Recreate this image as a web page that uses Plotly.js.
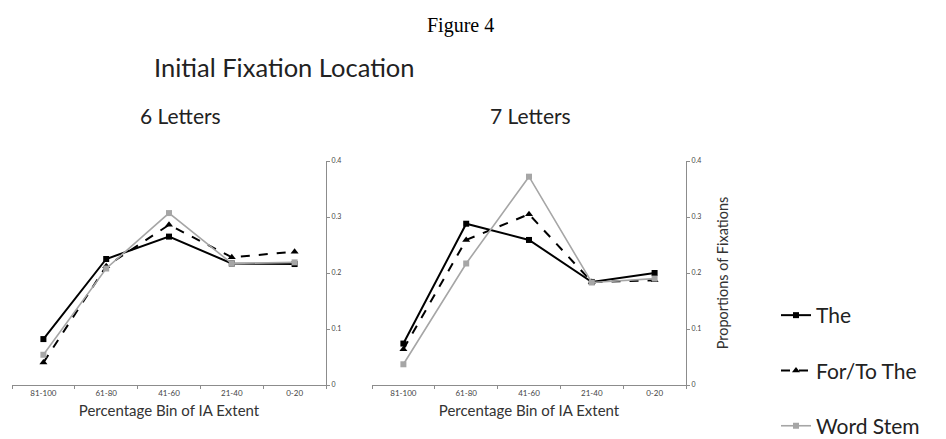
<!DOCTYPE html>
<html><head><meta charset="utf-8">
<script src="https://cdn.plot.ly/plotly-3.0.1.min.js"></script>
<style>html,body{margin:0;padding:0;background:#fff;}#c{width:946px;height:439px;}</style>
</head><body><div id="c"></div>
<script>
const bins = ["81-100", "61-80", "41-60", "21-40", "0-20"];
const six_The = [0.082, 0.225, 0.265, 0.217, 0.216];
const six_ForTo = [0.040, 0.212, 0.286, 0.228, 0.238];
const six_Stem = [0.054, 0.208, 0.307, 0.217, 0.219];
const seven_The = [0.074, 0.288, 0.259, 0.184, 0.200];
const seven_ForTo = [0.064, 0.259, 0.305, 0.184, 0.187];
const seven_Stem = [0.037, 0.217, 0.372, 0.183, 0.190];
const seriesNames = ["The", "For/To The", "Word Stem"];
const yTicks = [0, 0.1, 0.2, 0.3, 0.4];
const yTickText = ["0", "0.1", "0.2", "0.3", "0.4"];

const W = 946, H = 439;
const px = v => v / W, py = v => 1 - v / H;
const styles = [
  {line:{color:'#000', width:2, dash:'solid'}, marker:{symbol:'square', size:6, color:'#000'}},
  {line:{color:'#000', width:2, dash:'dash'}, marker:{symbol:'triangle-up', size:7, color:'#000'}},
  {line:{color:'#a6a6a6', width:1.6, dash:'solid'}, marker:{symbol:'square', size:6, color:'#a6a6a6'}}
];
const data = [];
[[six_The, six_ForTo, six_Stem], [seven_The, seven_ForTo, seven_Stem]].forEach((grp, gi) => {
  grp.forEach((vals, si) => {
    data.push({
      type:'scatter', mode:'lines+markers', x:bins, y:vals, name:seriesNames[si],
      xaxis: gi===0 ? 'x' : 'x2', yaxis: gi===0 ? 'y' : 'y2',
      line: styles[si].line, marker: styles[si].marker,
      showlegend: gi===0, legendgroup: 'g'+si
    });
  });
});
const font = 'Lato, "Open Sans", sans-serif';
const xax = (d, anchor) => ({
  domain:d, anchor:anchor, type:'category', categoryorder:'array', categoryarray:bins,
  range:[-0.5, 4.5], showline:true, linecolor:'#8c8c8c', linewidth:1.2, automargin:false,
  ticks:'outside', ticklen:3, tickcolor:'#8c8c8c', tickson:'boundaries',
  tickfont:{family:font, size:8, color:'#444'}, showgrid:false, zeroline:false,
  title:{text:'Percentage Bin of IA Extent', font:{family:font, size:15, color:'#333'}, standoff:8}
});
const yax = (d, anchor, title) => ({
  domain:d, anchor:anchor, side:'right', range:[0, 0.4], tickvals:yTicks, ticktext:yTickText,
  showline:true, linecolor:'#8c8c8c', linewidth:1.2, ticks:'outside', ticklen:3, tickcolor:'#8c8c8c',
  automargin:false,
  tickfont:{family:font, size:7, color:'#444'}, showgrid:false, zeroline:false,
  title: title ? {text:title, font:{family:font, size:14.5, color:'#333'}, standoff:17} : undefined
});
const yd = [py(385), py(161)];
const layout = {
  width:W, height:H, margin:{l:0, r:0, t:0, b:0, autoexpand:false}, paper_bgcolor:'#fff', plot_bgcolor:'#fff',
  xaxis: xax([px(12), px(326)], 'y'),
  yaxis: yax(yd, 'x', null),
  xaxis2: xax([px(372), px(686)], 'y2'),
  yaxis2: yax(yd, 'x2', 'Proportions of Fixations'),
  showlegend:true,
  legend:{x:px(776), y:py(295), xanchor:'left', yanchor:'top', traceorder:'grouped', tracegroupgap:25,
    font:{family:font, size:21, color:'#222'}, bgcolor:'rgba(0,0,0,0)', itemwidth:30},
  annotations:[
    {text:'Figure 4', x:px(460), y:py(25), xref:'paper', yref:'paper', xanchor:'center', yanchor:'middle', showarrow:false,
     font:{family:'"Liberation Serif", "Times New Roman", serif', size:20, color:'#000'}},
    {text:'Initial Fixation Location', x:px(284), y:py(67), xref:'paper', yref:'paper', xanchor:'center', yanchor:'middle', showarrow:false,
     font:{family:font, size:25.5, color:'#222'}},
    {text:'6 Letters', x:px(180), y:py(116), xref:'paper', yref:'paper', xanchor:'center', yanchor:'middle', showarrow:false,
     font:{family:font, size:21, color:'#222'}},
    {text:'7 Letters', x:px(530), y:py(116), xref:'paper', yref:'paper', xanchor:'center', yanchor:'middle', showarrow:false,
     font:{family:font, size:21, color:'#222'}}
  ]
};
Plotly.newPlot('c', data, layout, {staticPlot:true});
</script></body></html>
